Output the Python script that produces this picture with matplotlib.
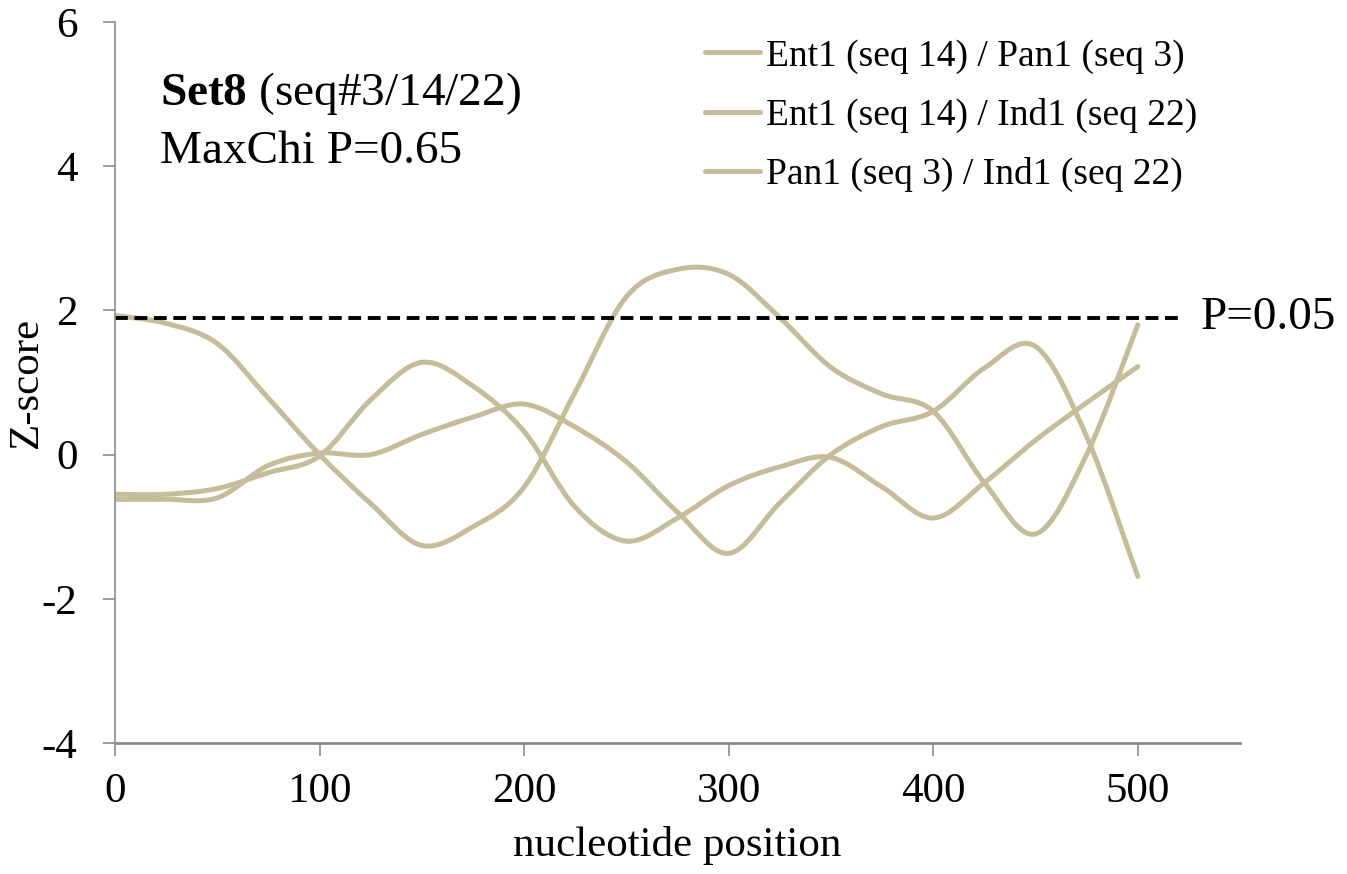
import matplotlib
matplotlib.use("Agg")
import matplotlib.pyplot as plt
from matplotlib.path import Path
from matplotlib.patches import PathPatch
from matplotlib.lines import Line2D

plt.rcParams['font.family'] = ['Liberation Serif', 'DejaVu Serif']
plt.rcParams['mathtext.fontset'] = 'custom'
plt.rcParams['mathtext.rm'] = 'Liberation Serif'
plt.rcParams['mathtext.bf'] = 'Liberation Serif:bold'
plt.rcParams['axes.unicode_minus'] = False

# nucleotide positions and Z-scores
positions = [0, 25, 50, 75, 100, 125, 150, 175, 200, 225, 250,
             275, 300, 325, 350, 375, 400, 425, 450, 475, 500]
ent_pan = [1.93, 1.82, 1.54, 0.78, 0.0, -0.68, -1.26, -1.0, -0.45, 0.87, 2.19,
           2.57, 2.50, 1.90, 1.21, 0.84, 0.6, -0.39, -1.10, 0.0, 1.80]
ent_ind = [-0.55, -0.55, -0.47, -0.25, -0.02, 0.76, 1.28, 0.95, 0.32, -0.73, -1.20,
           -0.88, -0.43, -0.17, -0.04, -0.45, -0.88, -0.39, 0.2, 0.72, 1.22]
pan_ind = [-0.62, -0.62, -0.6, -0.15, 0.02, 0.0, 0.28, 0.52, 0.70, 0.38, -0.1,
           -0.8, -1.37, -0.67, 0.0, 0.39, 0.6, 1.2, 1.5, 0.25, -1.69]
labels = ["Ent1 (seq 14) / Pan1 (seq 3)",
          "Ent1 (seq 14) / Ind1 (seq 22)",
          "Pan1 (seq 3) / Ind1 (seq 22)"]
threshold = 1.9

line_color = "#C6BD98"
axis_color = "#8C8C8C"


def smooth_path(xs, ys):
    # excel-style smoothed line: cubic bezier segments through each point
    pts = list(zip(xs, ys))
    verts = [pts[0]]
    codes = [Path.MOVETO]
    n = len(pts)
    for i in range(n - 1):
        p0 = pts[max(i - 1, 0)]
        p1 = pts[i]
        p2 = pts[i + 1]
        p3 = pts[min(i + 2, n - 1)]
        c1 = (p1[0] + (p2[0] - p0[0]) / 6, p1[1] + (p2[1] - p0[1]) / 6)
        c2 = (p2[0] - (p3[0] - p1[0]) / 6, p2[1] - (p3[1] - p1[1]) / 6)
        verts += [c1, c2, p2]
        codes += [Path.CURVE4] * 3
    return Path(verts, codes)


fig = plt.figure(figsize=(13.47, 8.74), dpi=100)
ax = fig.add_axes([0.0854, 0.1499, 0.8352, 0.8249])

handles = []
for ys, lab in zip([ent_pan, ent_ind, pan_ind], labels):
    patch = PathPatch(smooth_path(positions, ys), fill=False, edgecolor=line_color,
                      lw=3.6, capstyle='round', joinstyle='round')
    ax.add_patch(patch)
    handles.append(Line2D([], [], color=line_color, lw=3.6, solid_capstyle='round', label=lab))

ax.plot([0, 520], [threshold, threshold], color="black", lw=2.8,
        dashes=(3.3, 1.7), clip_on=False)
ax.text(531, threshold, "P=0.05", fontsize=34, va="center", ha="left", clip_on=False)

ax.set_xlim(0, 550)
ax.set_ylim(-4, 6)
ax.set_xticks([0, 100, 200, 300, 400, 500])
ax.set_yticks([-4, -2, 0, 2, 4, 6])
for s in ["top", "right"]:
    ax.spines[s].set_visible(False)
ax.spines["left"].set_color(axis_color)
ax.spines["left"].set_linewidth(1.2)
ax.spines["bottom"].set_color(axis_color)
ax.spines["bottom"].set_linewidth(2.0)
ax.tick_params(axis="both", direction="out", length=9, width=1.2, color=axis_color,
               labelsize=31)
ax.tick_params(axis="y", pad=18)
ax.tick_params(axis="x", pad=12)

ax.set_xlabel("nucleotide position", fontsize=31, labelpad=11)
ax.set_ylabel("Z-score", fontsize=31, labelpad=-3)

fig.text(160 / 1347, 1 - 105 / 874, r"$\mathbf{Set8}$ (seq#3/14/22)", fontsize=34,
         va="baseline", ha="left")
fig.text(160 / 1347, 1 - 163 / 874, "MaxChi P=0.65", fontsize=34,
         va="baseline", ha="left")

ax.legend(handles=handles, loc="upper left", bbox_to_anchor=(705 / 1347, 1 - 39 / 874),
          bbox_transform=fig.transFigure, frameon=False, fontsize=27,
          handlelength=1.47, handletextpad=0.15, labelspacing=0.64,
          borderpad=0, borderaxespad=0)

fig.savefig("out.png", dpi=100)
